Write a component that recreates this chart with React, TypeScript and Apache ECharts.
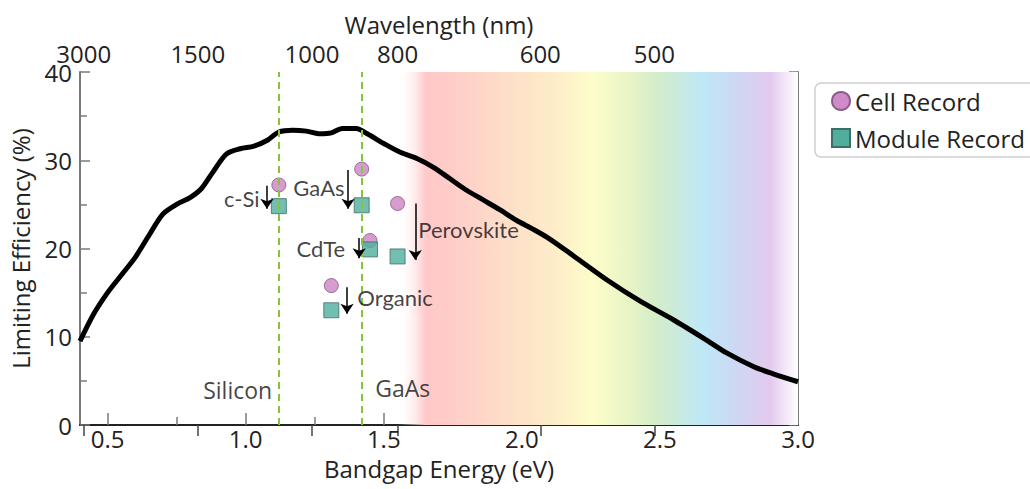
import React, { useEffect, useRef } from "react";
import * as echarts from "echarts";

// Shockley–Queisser limiting efficiency curve
const curveE = [0.40, 0.45, 0.50, 0.55, 0.60, 0.65, 0.70, 0.75, 0.80, 0.84, 0.88, 0.93, 0.98, 1.03, 1.08, 1.12, 1.17, 1.22, 1.27, 1.31, 1.35, 1.40, 1.44, 1.50, 1.56, 1.62, 1.68, 1.74, 1.80, 1.86, 1.92, 1.98, 2.04, 2.10, 2.19, 2.31, 2.43, 2.55, 2.67, 2.74, 2.84, 2.91, 3.00];
const curveEff = [9.5, 12.6, 15.0, 17.0, 19.0, 21.5, 23.9, 25.0, 25.8, 26.8, 28.6, 30.7, 31.3, 31.6, 32.3, 33.2, 33.4, 33.3, 33.0, 33.1, 33.6, 33.6, 33.0, 31.9, 30.9, 30.2, 29.2, 27.9, 26.6, 25.5, 24.4, 23.2, 22.2, 21.1, 19.1, 16.4, 14.0, 11.9, 9.6, 8.2, 6.6, 5.8, 4.9];

// Records (c-Si, GaAs, Perovskite, CdTe, Organic)
const cellE = [1.12, 1.42, 1.55, 1.45, 1.31];
const cellEff = [27.2, 29.0, 25.1, 20.9, 15.8];
const moduleE = [1.12, 1.42, 1.55, 1.45, 1.31];
const moduleEff = [24.8, 24.9, 19.1, 19.9, 13.0];

// Arrows (cell -> module drop)
const arrowE = [1.077, 1.371, 1.411, 1.614, 1.367];
const arrowFrom = [27.1, 28.9, 21.2, 25.1, 15.6];
const arrowTo = [24.5, 24.5, 18.9, 18.7, 12.6];

// Annotation labels
const annotationText = ["c-Si", "GaAs", "CdTe", "Perovskite", "Organic"];
const annotationE = [1.05, 1.172, 1.36, 1.625, 1.404];
const annotationEff = [25.7, 26.95, 20.0, 22.1, 14.5];
const annotationSide = ["left", "right", "left", "right", "right"];

// Reference bandgaps
const refGapE = [1.12, 1.42];
const refText = ["Silicon", "GaAs"];
const refTextE = [1.096, 1.469];
const refTextEff = [3.96, 4.2];
const refTextSide = ["left", "right"];

// Axis ticks
const energyTicks = [0.5, 1.0, 1.5, 2.0, 2.5, 3.0];
const energyMinorTicks = [0.75, 1.25, 1.75, 2.25, 2.75];
const wavelengthTicks = [3000, 1500, 1000, 800, 600, 500];

const FONT = "Open Sans";
const AXIS_GRAY = "#7a7a7a";

export default function App() {
  const ref = useRef<HTMLDivElement>(null);

  useEffect(() => {
    if (!ref.current) return;
    const chart = echarts.init(ref.current, null, { renderer: "svg" });
    const wlEnergies = wavelengthTicks.map((w) => 1240 / w);
    const gridPos = { left: 80, right: 232, top: 72, bottom: 64 };

    const option: any = {
      animation: false,
      backgroundColor: "#ffffff",
      textStyle: { fontFamily: FONT },
      grid: [
        { ...gridPos, containLabel: false },
        { ...gridPos, containLabel: false },
      ],
      legend: {
        data: [
          { name: "Cell Record", icon: "circle" },
          { name: "Module Record", icon: "rect" },
        ],
        orient: "vertical",
        left: 815,
        top: 83,
        padding: [5, 40, 6, 16],
        itemWidth: 18,
        itemHeight: 18,
        itemGap: 11,
        itemTextGap: 8,
        borderColor: "#cfcfcf",
        borderWidth: 1.5,
        borderRadius: 6,
        backgroundColor: "#ffffff",
        itemStyle: { opacity: 1 },
        textStyle: { fontFamily: FONT, fontSize: 24, color: "#222", lineHeight: 26 },
      },
      xAxis: [
        {
          type: "value",
          gridIndex: 0,
          position: "bottom",
          min: 0.4,
          max: 3.0,
          name: "Bandgap Energy (eV)",
          nameLocation: "middle",
          nameGap: 31,
          nameTextStyle: { fontFamily: FONT, fontSize: 24, color: "#222" },
          axisLine: { show: true, lineStyle: { color: AXIS_GRAY, width: 2 } },
          axisTick: { show: true, inside: true, length: 12, customValues: energyTicks, lineStyle: { color: AXIS_GRAY, width: 1.5 } },
          axisLabel: {
            show: true,
            customValues: energyTicks,
            margin: 1,
            fontFamily: FONT,
            fontSize: 24,
            color: "#222",
            formatter: (v: number) => v.toFixed(1),
          },
          splitLine: { show: false },
        },
        {
          type: "value",
          gridIndex: 0,
          position: "top",
          min: 0.4,
          max: 3.0,
          name: "Wavelength (nm)",
          nameLocation: "middle",
          nameGap: 36,
          nameTextStyle: { fontFamily: FONT, fontSize: 24, color: "#222", lineHeight: 24 },
          axisLine: { show: true, lineStyle: { color: "#222", width: 2 } },
          axisTick: { show: true, inside: true, length: 11, customValues: wlEnergies, lineStyle: { color: "#444", width: 1.5 } },
          axisLabel: {
            show: true,
            customValues: wlEnergies,
            margin: 7,
            fontFamily: FONT,
            fontSize: 24,
            lineHeight: 24,
            color: "#222",
            formatter: (v: number) => String(Math.round(1240 / v)),
          },
          splitLine: { show: false },
        },
        {
          type: "value",
          gridIndex: 1,
          position: "bottom",
          min: 0.4,
          max: 3.0,
          axisLine: { show: false },
          axisTick: { show: true, inside: true, length: 8, customValues: energyMinorTicks, lineStyle: { color: AXIS_GRAY, width: 1.5 } },
          axisLabel: { show: false },
          splitLine: { show: false },
        },
      ],
      yAxis: [
        {
          type: "value",
          gridIndex: 0,
          position: "left",
          min: 0,
          max: 40,
          interval: 10,
          name: "Limiting Efficiency (%)",
          nameLocation: "middle",
          nameGap: 48,
          nameTextStyle: { fontFamily: FONT, fontSize: 24, color: "#222" },
          axisLine: { show: true, lineStyle: { color: AXIS_GRAY, width: 2 } },
          axisTick: { show: true, inside: true, length: 10, lineStyle: { color: AXIS_GRAY, width: 1.5 } },
          minorTick: { show: true, splitNumber: 2, length: 7, lineStyle: { color: AXIS_GRAY, width: 1.5 } },
          axisLabel: { margin: 8, fontFamily: FONT, fontSize: 24, lineHeight: 22, color: "#222" },
          splitLine: { show: false },
        },
        {
          type: "value",
          gridIndex: 0,
          position: "right",
          min: 0,
          max: 40,
          interval: 5,
          axisLine: { show: true, lineStyle: { color: AXIS_GRAY, width: 2 } },
          axisTick: { show: true, inside: true, length: 9, lineStyle: { color: AXIS_GRAY, width: 1.5 } },
          axisLabel: { show: false },
          splitLine: { show: false },
        },
        {
          type: "value",
          gridIndex: 1,
          min: 0,
          max: 40,
          show: false,
        },
      ],
      series: [
        {
          name: "spectrum",
          type: "line",
          xAxisIndex: 0,
          yAxisIndex: 0,
          data: [],
          z: 0,
          silent: true,
          markArea: {
            silent: true,
            itemStyle: {
              color: {
                type: "linear",
                x: 0,
                y: 0,
                x2: 1,
                y2: 0,
                colorStops: [
                  { offset: 0, color: "rgba(255,255,255,0)" },
                  { offset: 0.07, color: "#FFC8C9" },
                  { offset: 0.14, color: "#FFCDC8" },
                  { offset: 0.28, color: "#FDDFC8" },
                  { offset: 0.4, color: "#FDEEC8" },
                  { offset: 0.49, color: "#FDFDCA" },
                  { offset: 0.58, color: "#E8F4C6" },
                  { offset: 0.65, color: "#D3ECCA" },
                  { offset: 0.76, color: "#BEE8F6" },
                  { offset: 0.84, color: "#CCD9F3" },
                  { offset: 0.93, color: "#E3C9EE" },
                  { offset: 1, color: "#FFFFFF" },
                ],
              },
            },
            data: [[{ xAxis: 1.55, yAxis: 0 }, { xAxis: 3.0, yAxis: 40 }]],
          },
        },
        {
          name: "minor",
          type: "line",
          xAxisIndex: 2,
          yAxisIndex: 2,
          data: [],
          silent: true,
        },
        {
          name: "SQ limit",
          type: "line",
          xAxisIndex: 0,
          yAxisIndex: 0,
          data: curveE.map((e, i) => [e, curveEff[i]]),
          smooth: 0.3,
          symbol: "none",
          lineStyle: { color: "#000", width: 5 },
          z: 3,
          silent: true,
        },
        {
          name: "Cell Record",
          type: "scatter",
          xAxisIndex: 0,
          yAxisIndex: 0,
          symbol: "circle",
          symbolSize: 14,
          data: cellE.map((e, i) => [e, cellEff[i]]),
          itemStyle: { color: "#CF8BC8", borderColor: "#8A5E88", borderWidth: 1, opacity: 0.85 },
          z: 4,
        },
        {
          name: "Module Record",
          type: "scatter",
          xAxisIndex: 0,
          yAxisIndex: 0,
          symbol: "rect",
          symbolSize: 15,
          data: moduleE.map((e, i) => [e, moduleEff[i]]),
          itemStyle: { color: "#4FAE9C", borderColor: "#3E6E66", borderWidth: 1, opacity: 0.8 },
          z: 4,
        },
        {
          name: "refLines",
          type: "line",
          xAxisIndex: 0,
          yAxisIndex: 0,
          data: [],
          z: 6,
          markLine: {
            silent: true,
            symbol: ["none", "none"],
            label: { show: false },
            lineStyle: { color: "#86C440", width: 2, type: [7, 5] },
            data: refGapE.map((e) => ({ xAxis: e })),
          },
        },
        {
          name: "arrows",
          type: "line",
          xAxisIndex: 0,
          yAxisIndex: 0,
          data: [],
          z: 6,
          markLine: {
            silent: true,
            symbol: ["none", "arrow"],
            symbolSize: 10,
            label: { show: false },
            lineStyle: { color: "#000", width: 1.5, type: "solid", opacity: 1 },
            itemStyle: { color: "#000" },
            data: arrowE.map((e, i) => [
              { coord: [e, arrowFrom[i]] },
              { coord: [e, arrowTo[i]] },
            ]),
          },
        },
        {
          name: "annotations",
          type: "scatter",
          xAxisIndex: 0,
          yAxisIndex: 0,
          symbolSize: 0,
          silent: true,
          z: 7,
          data: annotationText.map((t, i) => ({
            name: t,
            value: [annotationE[i], annotationEff[i]],
            label: { position: annotationSide[i], distance: 0 },
          })),
          label: {
            show: true,
            formatter: (p: any) => p.name,
            fontFamily: "Lato",
            fontSize: 22,
            color: "#111",
          },
        },
        {
          name: "refLabels",
          type: "scatter",
          xAxisIndex: 0,
          yAxisIndex: 0,
          symbolSize: 0,
          silent: true,
          z: 7,
          data: refText.map((t, i) => ({
            name: t,
            value: [refTextE[i], refTextEff[i]],
            label: { position: refTextSide[i], distance: 0 },
          })),
          label: {
            show: true,
            formatter: (p: any) => p.name,
            fontFamily: FONT,
            fontSize: 23,
            color: "#111",
          },
        },
      ],
    };

    chart.setOption(option);
    return () => {
      chart.dispose();
    };
  }, []);

  return (
    <div
      ref={ref}
      style={{ position: "fixed", left: 0, top: 0, width: 1030, height: 489, background: "#fff" }}
    />
  );
}
